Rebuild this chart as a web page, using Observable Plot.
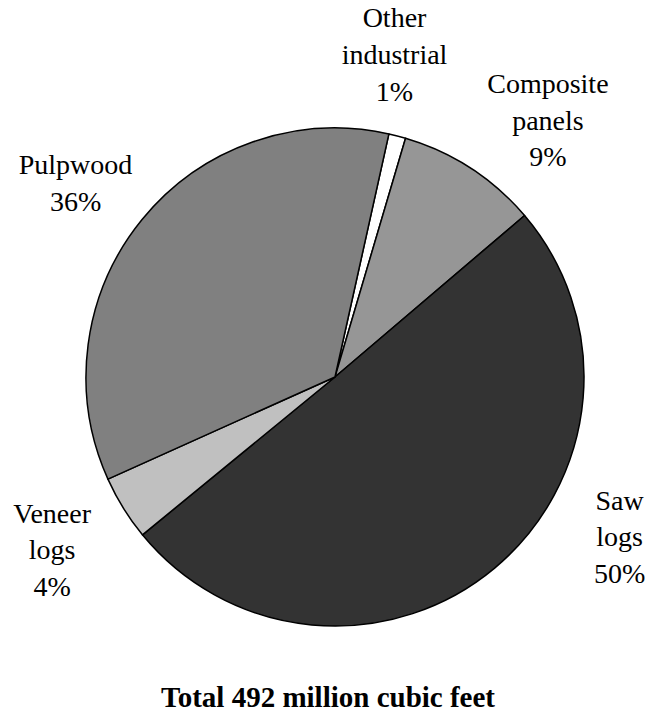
<!DOCTYPE html>
<html>
<head>
<meta charset="utf-8">
<script src="https://cdn.jsdelivr.net/npm/d3@7"></script>
<script src="https://cdn.jsdelivr.net/npm/@observablehq/plot@0.6"></script>
</head>
<body style="margin:0;padding:0;background:#fff;font-family:'Liberation Serif','Times New Roman',Times,serif;">
<div id="chart" style="width:656px;"></div>
<div id="total" style="width:656px;text-align:center;font-family:'Liberation Serif','Times New Roman',Times,serif;font-weight:bold;font-size:29px;line-height:34px;color:#000;"></div>
<script>
// ---- data ----
const categories = ["Other industrial", "Composite panels", "Saw logs", "Veneer logs", "Pulpwood"];
const shares = [1.1, 9.2, 50.3, 4.2, 35.2];           // percent of volume (slice sizes)
const pctLabels = ["1%", "9%", "50%", "4%", "36%"];   // printed labels
const nameLines = ["Other\nindustrial", "Composite\npanels", "Saw\nlogs", "Veneer\nlogs", "Pulpwood"];
const totalText = "Total 492 million cubic feet";

// ---- styles / layout ----
const serif = "'Liberation Serif', 'Times New Roman', Times, serif";
const fills = ["#ffffff", "#969696", "#333333", "#c0c0c0", "#808080"];
const startDeg = 12.5;
// label anchor (baseline of last line), in pie units (center 0,0; radius 1)
const labelX = [0.237, 0.853, 1.141, -1.138, -1.044];
const labelY = [1.112, 0.848, -0.825, -0.878, 0.668];

const pie = d3.pie().sort(null).value(d => d)
  .startAngle(startDeg * Math.PI / 180)
  .endAngle(startDeg * Math.PI / 180 + 2 * Math.PI);
const arcs = pie(shares);

const idx = d3.range(categories.length);

const pieMark = (index, scales) => {
  const cx = scales.x(0), cy = scales.y(0), r = scales.x(1) - cx;
  const arc = d3.arc().innerRadius(0).outerRadius(r);
  const g = d3.create("svg:g").attr("transform", `translate(${cx},${cy})`);
  g.selectAll("path").data(arcs).join("path")
    .attr("d", arc)
    .attr("fill", (d, i) => fills[i])
    .attr("stroke", "#000")
    .attr("stroke-width", 1.5)
    .attr("stroke-linejoin", "round")
    .append("title").text((d, i) => `${categories[i]}: ${pctLabels[i]}`);
  return g.node();
};

const chart = Plot.plot({
  width: 656,
  height: 680,
  margin: 0,
  x: {domain: [-1, 1], range: [86, 584], axis: null},
  y: {domain: [-1, 1], range: [626, 128], axis: null},
  marks: [
    pieMark,
    Plot.text(idx, {
      x: i => labelX[i],
      y: i => labelY[i],
      text: i => nameLines[i] + "\n" + pctLabels[i],
      lineAnchor: "bottom",
      textAnchor: "middle",
      lineHeight: 1.31,
      fontSize: 28,
      fontFamily: serif,
      fill: "#000"
    })
  ],
  style: {background: "#fff", fontFamily: serif}
});
document.getElementById("chart").append(chart);
document.getElementById("total").textContent = totalText;
</script>
</body>
</html>
